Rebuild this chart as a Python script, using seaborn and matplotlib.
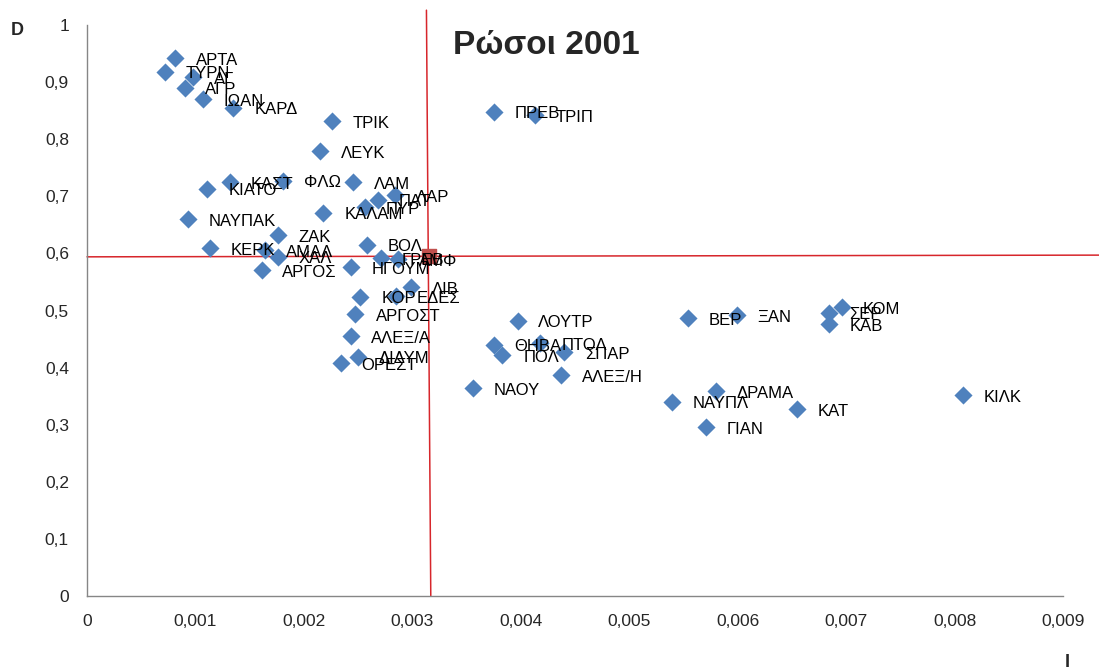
import pandas as pd
import matplotlib.pyplot as plt
import seaborn as sns

# cities (labels) and their I / D values
cities = ["ΑΡΤΑ", "ΤΥΡΝ", "ΑΓ", "ΑΓΡ", "ΙΩΑΝ", "ΚΑΡΔ", "ΤΡΙΚ", "ΛΕΥΚ",
          "ΠΡΕΒ", "ΤΡΙΠ", "ΚΙΑΤΟ", "ΚΑΣΤ", "ΦΛΩ", "ΛΑΜ", "ΚΑΛΑΜ", "ΠΥΡ",
          "ΠΑΤ", "ΛΑΡ", "ΝΑΥΠΑΚ", "ΖΑΚ", "ΚΕΡΚ", "ΑΜΑΛ", "ΧΑΛ", "ΑΡΓΟΣ",
          "ΒΟΛ", "ΓΡΕΒ", "ΑΜΦ", "ΗΓΟΥΜ", "ΛΙΒ", "ΚΟΡ", "ΕΔΕΣ", "ΑΡΓΟΣΤ",
          "ΑΛΕΞ/Α", "ΟΡΕΣΤ", "ΔΙΔΥΜ", "ΛΟΥΤΡ", "ΘΗΒΑ", "ΠΟΛ", "ΠΤΟΛ",
          "ΣΠΑΡ", "ΑΛΕΞ/Η", "ΝΑΟΥ", "ΒΕΡ", "ΞΑΝ", "ΣΕΡ", "ΚΑΒ", "ΚΟΜ",
          "ΝΑΥΠΛ", "ΔΡΑΜΑ", "ΓΙΑΝ", "ΚΑΤ", "ΚΙΛΚ"]

i_vals = [0.00081, 0.00072, 0.00098, 0.00090, 0.00107, 0.00135, 0.00226, 0.00215,
          0.00375, 0.00413, 0.00111, 0.00132, 0.00181, 0.00245, 0.00218, 0.00256,
          0.00268, 0.00284, 0.00093, 0.00176, 0.00113, 0.00164, 0.00176, 0.00161,
          0.00258, 0.00271, 0.00287, 0.00243, 0.00299, 0.00252, 0.00285, 0.00247,
          0.00243, 0.00234, 0.00250, 0.00397, 0.00375, 0.00383, 0.00418,
          0.00440, 0.00437, 0.00356, 0.00554, 0.00599, 0.00684, 0.00684, 0.00696,
          0.00539, 0.00580, 0.00571, 0.00655, 0.00808]

d_vals = [0.942, 0.918, 0.909, 0.890, 0.870, 0.855, 0.832, 0.779,
          0.848, 0.842, 0.713, 0.725, 0.727, 0.725, 0.671, 0.681,
          0.694, 0.702, 0.660, 0.632, 0.609, 0.606, 0.594, 0.571,
          0.615, 0.592, 0.590, 0.576, 0.541, 0.524, 0.525, 0.494,
          0.455, 0.408, 0.419, 0.482, 0.440, 0.422, 0.443,
          0.427, 0.387, 0.364, 0.487, 0.492, 0.496, 0.476, 0.506,
          0.340, 0.359, 0.296, 0.327, 0.352]

# mean point and the two mean lines
mean_i = [0.00315]
mean_d = [0.595]
hline_i = [0.0, 0.00934]
hline_d = [0.594, 0.597]
vline_i = [0.00317, 0.00313]
vline_d = [0.0, 1.026]

x_ticks = [0, 0.001, 0.002, 0.003, 0.004, 0.005, 0.006, 0.007, 0.008, 0.009]
y_ticks = [0, 0.1, 0.2, 0.3, 0.4, 0.5, 0.6, 0.7, 0.8, 0.9, 1]

df = pd.DataFrame({"city": cities, "I": i_vals, "D": d_vals})

sns.set_style("white")
plt.rcParams["font.family"] = ["Liberation Sans", "DejaVu Sans"]

fig = plt.figure(figsize=(10.99, 6.71), dpi=100)
ax = fig.add_axes([0.0792, 0.1118, 0.8880, 0.8509])

blue = "#4F81BD"
red = "#D7262B"

ax.plot(hline_i, hline_d, color=red, lw=1.1, clip_on=False, zorder=1)
ax.plot(vline_i, vline_d, color=red, lw=1.1, clip_on=False, zorder=1)

sns.scatterplot(data=df, x="I", y="D", marker="D", color=blue, s=85,
                linewidth=0, ax=ax, zorder=3, clip_on=False)
ax.scatter(mean_i, mean_d, marker="s", color="#C0504D", s=100, zorder=4)

for name, xi, yi in zip(cities, i_vals, d_vals):
    ax.annotate(name, (xi, yi), xytext=(15, -1.5), textcoords="offset points",
                va="center", ha="left", fontsize=12, color="black", zorder=5)

ax.set_xlim(0, 0.009)
ax.set_ylim(0, 1)
ax.set_xticks(x_ticks)
ax.set_yticks(y_ticks)
ax.set_xticklabels(["0"] + [f"{t:.3f}".replace(".", ",") for t in x_ticks[1:]])
ax.set_yticklabels(["0"] + [f"{t:.1f}".replace(".", ",") for t in y_ticks[1:-1]] + ["1"])
ax.tick_params(direction="out", length=5, width=1, color="#868686",
               labelsize=12.5, pad=8)
ax.set_xlabel("")
ax.set_ylabel("")

for side in ["top", "right"]:
    ax.spines[side].set_visible(False)
for side in ["left", "bottom"]:
    ax.spines[side].set_color("#868686")
    ax.spines[side].set_linewidth(1)

fig.text(0.497, 0.932, "Ρώσοι 2001", fontsize=24, fontweight="bold",
         ha="center", va="center")
fig.text(0.016, 0.955, "D", fontsize=13, fontweight="bold", ha="center", va="center")
fig.text(0.971, 0.013, "I", fontsize=13, fontweight="bold", ha="center", va="center")

fig.savefig("out.png", dpi=100)
